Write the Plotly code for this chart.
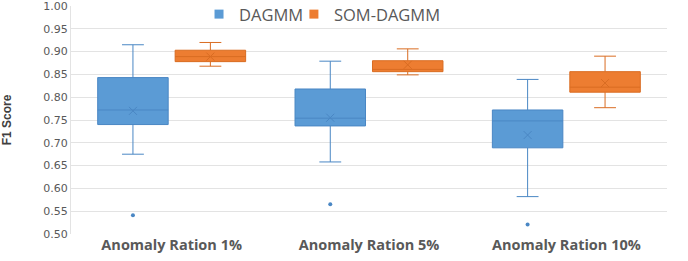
import plotly.graph_objects as go

categories = ["Anomaly Ration 1%", "Anomaly Ration 5%", "Anomaly Ration 10%"]

dagmm_upper = [0.915, 0.879, 0.839]
dagmm_q3 = [0.843, 0.818, 0.772]
dagmm_median = [0.772, 0.754, 0.748]
dagmm_mean = [0.770, 0.755, 0.717]
dagmm_q1 = [0.740, 0.737, 0.689]
dagmm_lower = [0.675, 0.658, 0.582]
dagmm_outliers = [[0.541], [0.565], [0.521]]

som_upper = [0.920, 0.906, 0.890]
som_q3 = [0.903, 0.880, 0.856]
som_median = [0.889, 0.861, 0.822]
som_mean = [0.889, 0.871, 0.831]
som_q1 = [0.878, 0.856, 0.811]
som_lower = [0.868, 0.849, 0.777]

BLUE = "#5B9BD5"
BLUE_LINE = "#4A87C4"
ORANGE = "#ED7D31"
ORANGE_LINE = "#D96C22"

fig = go.Figure()
fig.add_trace(go.Box(
    name="DAGMM", x=categories, y=dagmm_outliers,
    q1=dagmm_q1, median=dagmm_median, q3=dagmm_q3,
    lowerfence=dagmm_lower, upperfence=dagmm_upper,
    fillcolor=BLUE, line=dict(color=BLUE_LINE, width=1),
    boxpoints="outliers", pointpos=0, jitter=0,
    marker=dict(color=BLUE_LINE, size=4), whiskerwidth=0.31,
    offsetgroup="a", hoverinfo="skip", showlegend=False,
))
fig.add_trace(go.Box(
    name="SOM-DAGMM", x=categories,
    q1=som_q1, median=som_median, q3=som_q3,
    lowerfence=som_lower, upperfence=som_upper,
    fillcolor=ORANGE, line=dict(color=ORANGE_LINE, width=1),
    boxpoints=False, whiskerwidth=0.31,
    marker=dict(color=ORANGE_LINE, size=4),
    offsetgroup="b", hoverinfo="skip", showlegend=False,
))
fig.add_trace(go.Scatter(
    x=categories, y=dagmm_mean, mode="markers", showlegend=False,
    marker=dict(symbol="x-thin-open", size=8, color=BLUE_LINE, line=dict(color=BLUE_LINE, width=1)),
    offsetgroup="a", hoverinfo="skip",
))
fig.add_trace(go.Scatter(
    x=categories, y=som_mean, mode="markers", showlegend=False,
    marker=dict(symbol="x-thin-open", size=8, color=ORANGE_LINE, line=dict(color=ORANGE_LINE, width=1)),
    offsetgroup="b", hoverinfo="skip",
))
# legend entries (one legend per entry for placement)
fig.add_trace(go.Scatter(x=[None], y=[None], mode="markers", name="DAGMM",
                         marker=dict(symbol="square", size=9, color=BLUE), legend="legend"))
fig.add_trace(go.Scatter(x=[None], y=[None], mode="markers", name="SOM-DAGMM",
                         marker=dict(symbol="square", size=9, color=ORANGE), legend="legend2"))

legend_common = dict(orientation="h", y=1.04, yanchor="top", xanchor="left",
                     font=dict(size=16.5, color="#595959"), bgcolor="rgba(0,0,0,0)",
                     itemwidth=30)

fig.update_layout(
    width=688, height=261,
    margin=dict(l=71, r=21, t=6, b=27, autoexpand=False),
    paper_bgcolor="white", plot_bgcolor="white",
    boxmode="group", boxgap=0.215, boxgroupgap=0.09,
    scattermode="group", scattergap=0.215,
    font=dict(family="Open Sans", color="#595959"),
    legend=dict(x=0.2148, **legend_common),
    legend2=dict(x=0.374, **legend_common),
    yaxis=dict(range=[0.5, 1.0], dtick=0.05, tickformat=".2f",
               gridcolor="#E3E3E3", gridwidth=1, zeroline=False,
               showline=True, linecolor="#E3E3E3", automargin=False,
               ticklabeloverflow="allow",
               tickfont=dict(size=11, color="#595959", family="DejaVu Sans"),
               title=dict(text="<b>F1 Score</b>",
                          font=dict(size=12, color="#404040", family="Liberation Sans"),
                          standoff=35)),
    xaxis=dict(showgrid=False, showline=False, zeroline=False, automargin=False,
               tickfont=dict(size=14.5, color="#595959", family="Open Sans", weight="bold")),
)

fig.write_html("out.html", post_script="document.body.style.margin='0';",
               config={"displayModeBar": False})
